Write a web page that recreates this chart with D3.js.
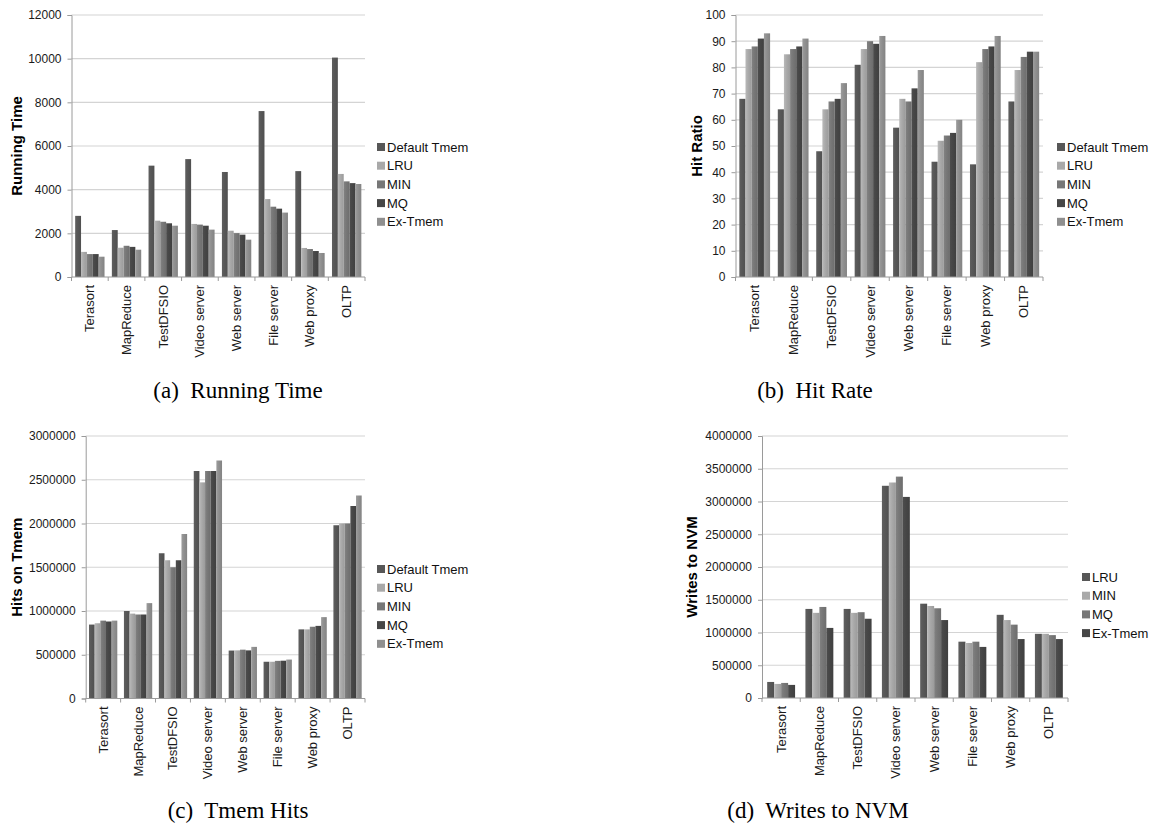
<!DOCTYPE html>
<html>
<head>
<meta charset="utf-8">
<script src="https://cdn.jsdelivr.net/npm/d3@7"></script>
<style>
  body { margin: 0; background: #fff; }
  svg { display: block; }
</style>
</head>
<body>
<div id="chart"></div>
<script>
// workloads on the x axis, shared by all four panels
const workloads = ['Terasort', 'MapReduce', 'TestDFSIO', 'Video server',
                   'Web server', 'File server', 'Web proxy', 'OLTP'];

const policies5 = ['Default Tmem', 'LRU', 'MIN', 'MQ', 'Ex-Tmem'];
const policies4 = ['LRU', 'MIN', 'MQ', 'Ex-Tmem'];

// (a) running time, one row per policy
const runningTime = [
  [2800, 2150, 5100, 5400, 4810, 7600, 4850, 10050],
  [1150, 1340, 2580, 2430, 2120, 3570, 1330, 4720],
  [1050, 1430, 2530, 2400, 2010, 3220, 1280, 4380],
  [1050, 1380, 2460, 2350, 1940, 3130, 1190, 4300],
  [930, 1250, 2350, 2170, 1710, 2950, 1100, 4260]
];

// (b) hit ratio
const hitRatio = [
  [68, 64, 48, 81, 57, 44, 43, 67],
  [87, 85, 64, 87, 68, 52, 82, 79],
  [88, 87, 67, 90, 67, 54, 87, 84],
  [91, 88, 68, 89, 72, 55, 88, 86],
  [93, 91, 74, 92, 79, 60, 92, 86]
];

// (c) hits on tmem
const tmemHits = [
  [845000, 1000000, 1660000, 2600000, 548000, 420000, 790000, 1980000],
  [860000, 970000, 1580000, 2470000, 550000, 420000, 790000, 2000000],
  [890000, 960000, 1500000, 2600000, 558000, 430000, 820000, 2000000],
  [880000, 960000, 1580000, 2600000, 550000, 432000, 830000, 2200000],
  [890000, 1090000, 1880000, 2720000, 590000, 445000, 930000, 2320000]
];

// (d) writes to NVM
const nvmWrites = [
  [245000, 1360000, 1360000, 3240000, 1440000, 860000, 1270000, 980000],
  [215000, 1300000, 1300000, 3290000, 1405000, 840000, 1190000, 980000],
  [230000, 1390000, 1310000, 3380000, 1370000, 860000, 1120000, 960000],
  [200000, 1070000, 1210000, 3070000, 1190000, 780000, 900000, 900000]
];

const grays = ['#575757', '#a9a9a9', '#777777', '#464646', '#8f8f8f'];

const W = 1154, H = 825;
const svg = d3.select('#chart').append('svg')
  .attr('width', W).attr('height', H);

const defs = svg.append('defs');
grays.forEach((c, i) => {
  const g = defs.append('linearGradient')
    .attr('id', 'grad' + i)
    .attr('x1', '0%').attr('x2', '100%').attr('y1', '0%').attr('y2', '0%');
  g.append('stop').attr('offset', '0%').attr('stop-color', d3.color(c).brighter(0.25));
  g.append('stop').attr('offset', '45%').attr('stop-color', c);
  g.append('stop').attr('offset', '100%').attr('stop-color', d3.color(c).darker(0.25));
});

function drawPanel(p) {
  const g = svg.append('g');
  const x = d3.scaleBand().domain(workloads).range([p.x0, p.x1])
    .paddingInner(p.pad).paddingOuter(p.pad / 2);
  const x1 = d3.scaleBand().domain(d3.range(p.series.length)).range([0, x.bandwidth()]);
  const y = d3.scaleLinear().domain([0, p.max]).range([p.y1, p.y0]);
  const ticks = d3.range(0, p.max + 1, p.step);

  // gridlines
  g.append('g').selectAll('line').data(ticks.slice(1)).join('line')
    .attr('x1', p.x0).attr('x2', p.x1)
    .attr('y1', d => y(d)).attr('y2', d => y(d))
    .attr('stroke', '#d4d4d4').attr('stroke-width', 1.2);

  // bars
  p.values.forEach((row, si) => {
    const ci = p.colorIdx[si];
    g.append('g').selectAll('rect').data(row).join('rect')
      .attr('x', (d, i) => x(workloads[i]) + x1(si))
      .attr('width', x1.bandwidth())
      .attr('y', d => y(d))
      .attr('height', d => y(0) - y(d))
      .attr('fill', `url(#grad${ci})`);
  });

  // y axis
  const ya = g.append('g').attr('transform', `translate(${p.x0},0)`)
    .call(d3.axisLeft(y).tickValues(ticks).tickFormat(d3.format('d'))
      .tickSize(4).tickPadding(6));
  ya.select('.domain').attr('stroke', '#9a9a9a');
  ya.selectAll('.tick line').attr('stroke', '#9a9a9a');
  ya.selectAll('text').attr('font-family', 'Liberation Sans, Arial, sans-serif')
    .attr('font-size', 12).attr('fill', '#1a1a1a');

  // x axis: ticks at band boundaries
  const xa = g.append('g');
  xa.append('line').attr('x1', p.x0).attr('x2', p.x1)
    .attr('y1', p.y1).attr('y2', p.y1).attr('stroke', '#9a9a9a');
  const step = (p.x1 - p.x0) / workloads.length;
  xa.selectAll('line.tk').data(d3.range(workloads.length + 1)).join('line')
    .attr('class', 'tk')
    .attr('x1', i => p.x0 + i * step).attr('x2', i => p.x0 + i * step)
    .attr('y1', p.y1).attr('y2', p.y1 + 4).attr('stroke', '#9a9a9a');
  xa.selectAll('text').data(workloads).join('text')
    .attr('transform', d => `translate(${x(d) + x.bandwidth() / 2 + 4.5},${p.y1 + 8}) rotate(-90)`)
    .attr('text-anchor', 'end')
    .attr('font-family', 'Liberation Sans, Arial, sans-serif')
    .attr('font-size', 13).attr('fill', '#1a1a1a')
    .text(d => d);

  // y title
  g.append('text')
    .attr('transform', `translate(${p.titleX},${(p.y0 + p.y1) / 2}) rotate(-90)`)
    .attr('text-anchor', 'middle')
    .attr('font-family', 'Liberation Sans, Arial, sans-serif')
    .attr('font-weight', 'bold').attr('font-size', 15)
    .text(p.title);

  // legend
  const lg = g.append('g').selectAll('g').data(p.series).join('g')
    .attr('transform', (d, i) => `translate(${p.legendX},${p.legendY + i * 18.7})`);
  lg.append('rect').attr('x', 0).attr('y', -4).attr('width', 8).attr('height', 8)
    .attr('fill', (d, i) => grays[p.colorIdx[i]]);
  lg.append('text').attr('x', 10).attr('y', 4.5)
    .attr('font-family', 'Liberation Sans, Arial, sans-serif')
    .attr('font-size', 13).attr('fill', '#111')
    .text(d => d);

  // caption
  g.append('text')
    .attr('x', p.capX).attr('y', p.capY)
    .attr('text-anchor', 'middle')
    .attr('font-family', 'Liberation Serif, Times New Roman, serif')
    .attr('font-size', 23)
    .attr('xml:space', 'preserve')
    .text(p.caption);
}

drawPanel({
  x0: 71.5, x1: 365, y0: 15, y1: 277, max: 12000, step: 2000, pad: 0.2,
  series: policies5, values: runningTime, colorIdx: [0, 1, 2, 3, 4],
  title: 'Running Time', titleX: 22,
  legendX: 377, legendY: 147,
  caption: '(a)  Running Time', capX: 238, capY: 398
});

drawPanel({
  x0: 735.5, x1: 1043, y0: 15, y1: 277, max: 100, step: 10, pad: 0.2,
  series: policies5, values: hitRatio, colorIdx: [0, 1, 2, 3, 4],
  title: 'Hit Ratio', titleX: 702,
  legendX: 1057, legendY: 147,
  caption: '(b)  Hit Rate', capX: 815, capY: 398
});

drawPanel({
  x0: 85.7, x1: 365, y0: 436, y1: 698.5, max: 3000000, step: 500000, pad: 0.19,
  series: policies5, values: tmemHits, colorIdx: [0, 1, 2, 3, 4],
  title: 'Hits on Tmem', titleX: 22,
  legendX: 377, legendY: 569,
  caption: '(c)  Tmem Hits', capX: 238, capY: 818
});

drawPanel({
  x0: 762, x1: 1068, y0: 436, y1: 698, max: 4000000, step: 500000, pad: 0.27,
  series: policies4, values: nvmWrites, colorIdx: [0, 1, 2, 3],
  title: 'Writes to NVM', titleX: 697,
  legendX: 1082, legendY: 577,
  caption: '(d)  Writes to NVM', capX: 818, capY: 818
});
</script>
</body>
</html>
